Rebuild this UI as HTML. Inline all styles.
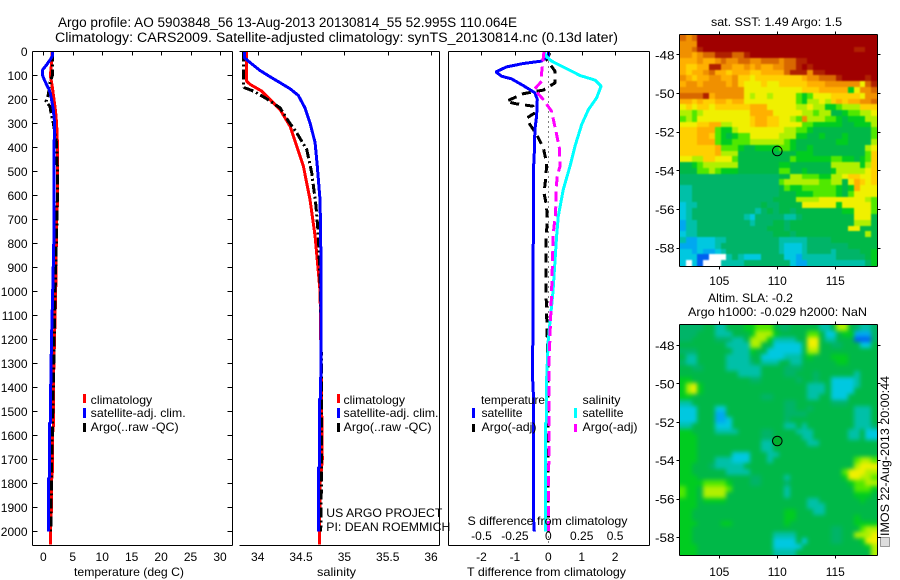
<!DOCTYPE html>
<html>
<head>
<meta charset="utf-8">
<title>Argo profile</title>
<style>
html,body{margin:0;padding:0;background:#fff}
svg{display:block}
text{font-family:"Liberation Sans",sans-serif;font-size:12px;fill:#000}
</style>
</head>
<body>
<svg id="chart" width="900" height="580" viewBox="0 0 900 580" xmlns="http://www.w3.org/2000/svg">
<defs>
<filter id="blur-sst" x="-5%" y="-5%" width="110%" height="110%" color-interpolation-filters="sRGB"><feGaussianBlur stdDeviation="0.9"/></filter>
<filter id="blur-sla" x="-5%" y="-5%" width="110%" height="110%" color-interpolation-filters="sRGB"><feGaussianBlur stdDeviation="2.2"/></filter>
<clipPath id="clip-sst"><rect x="680" y="35" width="197" height="231"/></clipPath>
<clipPath id="clip-sla"><rect x="680" y="325" width="197" height="230"/></clipPath>
</defs>
<text x="58" y="27" textLength="459" lengthAdjust="spacingAndGlyphs" style="font-size:13.5px">Argo profile: AO 5903848_56 13-Aug-2013 20130814_55 52.995S 110.064E</text>
<text x="55" y="42" textLength="563" lengthAdjust="spacingAndGlyphs" style="font-size:13.5px">Climatology: CARS2009. Satellite-adjusted climatology: synTS_20130814.nc (0.13d later)</text>
<g id="maps"></g>
<g id="panels"></g>

<text x="74" y="576" textLength="110" lengthAdjust="spacingAndGlyphs">temperature (deg C)</text>
<text x="317" y="576" textLength="39" lengthAdjust="spacingAndGlyphs">salinity</text>
<text x="467" y="576" textLength="159" lengthAdjust="spacingAndGlyphs">T difference from climatology</text>
<text x="467.5" y="525" textLength="160" lengthAdjust="spacingAndGlyphs">S difference from climatology</text>

<g>
<rect x="83" y="394" width="3" height="9" fill="#f00"/>
<text x="90.7" y="404" textLength="61.5" lengthAdjust="spacingAndGlyphs">climatology</text>
<rect x="83" y="408" width="3" height="10" fill="#00f"/>
<text x="90.7" y="417" textLength="95" lengthAdjust="spacingAndGlyphs">satellite-adj. clim.</text>
<rect x="83" y="423" width="3" height="9" fill="#000"/>
<text x="90.7" y="431" textLength="88" lengthAdjust="spacingAndGlyphs">Argo(..raw -QC)</text>
</g>
<g>
<rect x="337" y="394" width="3" height="9" fill="#f00"/>
<text x="343.5" y="404" textLength="61.5" lengthAdjust="spacingAndGlyphs">climatology</text>
<rect x="337" y="408" width="3" height="10" fill="#00f"/>
<text x="343.5" y="417" textLength="95" lengthAdjust="spacingAndGlyphs">satellite-adj. clim.</text>
<rect x="337" y="423" width="3" height="9" fill="#000"/>
<text x="343.5" y="431" textLength="88" lengthAdjust="spacingAndGlyphs">Argo(..raw -QC)</text>
</g>
<g>
<text x="481" y="404" textLength="64" lengthAdjust="spacingAndGlyphs">temperature</text>
<rect x="472" y="408" width="3" height="10" fill="#00f"/>
<text x="481.5" y="417" textLength="41" lengthAdjust="spacingAndGlyphs">satellite</text>
<rect x="472" y="424" width="3" height="8" fill="#000"/>
<text x="481.5" y="431" textLength="55" lengthAdjust="spacingAndGlyphs">Argo(-adj)</text>
<text x="582.5" y="404" textLength="38" lengthAdjust="spacingAndGlyphs">salinity</text>
<rect x="574" y="408" width="3" height="10" fill="#0ff"/>
<text x="582.5" y="417" textLength="41" lengthAdjust="spacingAndGlyphs">satellite</text>
<rect x="574" y="424" width="3" height="8" fill="#f0f"/>
<text x="582.5" y="431" textLength="55" lengthAdjust="spacingAndGlyphs">Argo(-adj)</text>
</g>

<text x="326.3" y="517" textLength="116" lengthAdjust="spacingAndGlyphs">US ARGO PROJECT</text>
<text x="326.3" y="531" textLength="124" lengthAdjust="spacingAndGlyphs">PI: DEAN ROEMMICH</text>

<text x="711" y="26" textLength="131" lengthAdjust="spacingAndGlyphs">sat. SST: 1.49 Argo: 1.5</text>
<text x="708" y="302" textLength="85" lengthAdjust="spacingAndGlyphs">Altim. SLA: -0.2</text>
<text x="688" y="316" textLength="179" lengthAdjust="spacingAndGlyphs">Argo h1000: -0.029 h2000: NaN</text>

<g>
<rect x="880.5" y="537.5" width="9" height="9" fill="#ddd" stroke="#444" stroke-width="1" stroke-dasharray="1 1" shape-rendering="crispEdges"/>
</g>
<text transform="translate(889,536) rotate(-90)" textLength="160" lengthAdjust="spacingAndGlyphs">IMOS 22-Aug-2013 20:00:44</text>
</svg>
<script>
// ---- tick labels ----
var depthTicks = [0,100,200,300,400,500,600,700,800,900,1000,1100,1200,1300,1400,1500,1600,1700,1800,1900,2000];
var tempTicks = [0,5,10,15,20,25,30];
var salTicks = [34,34.5,35,35.5,36];
var salTickLabels = ['34','34.5','35','35.5','36'];
var tDiffTicks = [-2,-1,0,1,2];
var sDiffTicks = [-0.5,-0.25,0,0.25,0.5];
var sDiffLabels = ['-0.5','-0.25','0','0.25','0.5'];
var latTicks = [-48,-50,-52,-54,-56,-58];
var lonTicks = [105,110,115];

// ---- temperature panel ----
var tempClimDepth = [0,60,100,150,200,250,300,400,620,700,1000,1200,1400,1550,1600,1750,1800,1920,1980,2054];
var tempClim = [1.53,1.35,1.2,1.55,1.81,2.09,2.26,2.43,2.43,2.26,2.1,1.9,1.7,1.75,1.55,1.55,1.35,1.35,1.2,1.2];
var tempArgoDepth = [0,100,130,180,208,229,270,298,382,479,618,757,1000,1400,1700,2000];
var tempArgo = [1.53,1.53,1.13,0.85,0.45,1.13,1.41,1.7,2.26,2.38,2.38,2.26,2.0,1.7,1.45,1.25];
var tempSatDepth = [0,20,35,55,76,97,118,139,160,180,201,243,285,500,758,1000,1200,1400,1545,1550,1775,1780,2000];
var tempSat = [1.53,1.53,1.13,0.57,-0.11,-0.17,0.17,0.57,1.02,1.24,1.41,1.7,1.87,1.85,1.81,1.6,1.4,1.25,1.25,1.02,1.02,0.9,0.9];

// ---- salinity panel ----
var salClimDepth = [0,124,137,165,207,242,311,394,478,617,769,1000,1400,1700,1800,2054];
var salClim = [33.873,33.873,33.912,34.046,34.162,34.258,34.373,34.45,34.527,34.604,34.662,34.72,34.735,34.745,34.72,34.712];
var salArgoDepth = [0,130,150,165,193,235,290,339,408,505,644,769,1000,1400,1800,2000];
var salArgo = [33.835,33.835,33.842,33.95,34.085,34.258,34.354,34.45,34.565,34.623,34.673,34.7,34.725,34.738,34.735,34.727];
var salSatDepth = [0,26,40,79,105,130,155,183,235,297,380,478,617,769,1000,1445,1450,1730,1735,2000];
var salSat = [33.846,33.846,33.892,34.027,34.142,34.258,34.373,34.469,34.546,34.604,34.662,34.688,34.719,34.727,34.73,34.727,34.712,34.712,34.7,34.7];

// ---- difference panel ----
var diffTSatDepth = [0,19,40,50,64,85,103,114,142,172,200,269,325,422,506,769,1360,1450,1950,2000];
var diffTSat = [0,0,-0.2,-0.75,-1.25,-1.57,-1.4,-1.1,-0.75,-0.4,-0.33,-0.35,-0.4,-0.42,-0.45,-0.45,-0.47,-0.44,-0.44,-0.42];
var diffTArgoDepth = [6,33,82,131,161,176,207,217,228,256,276,304,346,401,464,519,589,644,714,769,1000,1300,2000];
var diffTArgo = [0.05,-0.05,0.2,0.2,-0.15,-0.75,-1.25,-1.0,-0.45,-0.4,-0.63,-0.55,-0.35,-0.15,-0.05,-0.07,-0.13,-0.05,-0.03,-0.07,-0.07,-0.01,0];
var diffSSatDepth = [0,19,40,75,100,119,144,193,242,304,394,478,575,686,769,1000,1200,1367,1546,1550,2000];
var diffSSat = [-0.03,-0.0175,0.025,0.15,0.2375,0.35,0.395,0.3625,0.3,0.25,0.2,0.1625,0.1125,0.075,0.0625,0.035,0,-0.0125,-0.015,-0.0225,-0.0225];
var diffSArgoDepth = [0,89,124,158,200,249,346,401,478,519,575,631,686,756,1000,1300,2000];
var diffSArgo = [-0.0325,-0.05,-0.05,-0.105,-0.0375,0.025,0.0625,0.0825,0.0875,0.0675,0.0575,0.0575,0.0525,0.0375,0.025,0.005,0.0025];
var zeroLine = [0,0];
var zeroLineDepth = [0,2054];

// ---- map grids: each character is one cell level, '.' = no data ----
var mapLevels = 'abcdefghijklmnop';
var mapColors = ['#0060f0','#00a8f0','#00c8e0','#00c0a8','#00b468','#00b848','#00cc20','#50e800','#b0f000','#f0f000','#ffd000','#ffb000','#f09000','#d86800','#b02000','#a00000'];
var sstRows = [
'nmnppppppppppppppppppppppppppppppp',
'mmmppppppppppppppppppppppppppppppp',
'mmnoppppppppppppppppppppppppppoopp',
'mmlmnnooonnopppppppppppppppppppppp',
'lllmllmnmmnnmmnnnmnnoopppppppppppp',
'lkklloommllmlmllmmnnopoppppppppppp',
'lkllmnllklllkkllllnooomoopppppppppp',
'mlkllmmllmkkjkkkkkkkklmmnnnoppppop',
'lmmlmmmmlmkjjjkjjkkkkklllmmmmmmjno',
'mmmmmmmmmmmjjjjjjjjjjkkklllllgjmmn',
'nnnnolmmmmmjijjijjjjhghjjjkkkkkjmm',
'llklkkllklljjjjjjjjjhgiijiklkllmmn',
'jkjkkjkkkkkkllljjjjjiijiigghiiikkk',
'iihijjjjjjjjlllljjjjjiihiiffghhiij',
'hihjjjjjjjjjkllkkjjihmiiihhgfgggii',
'jjjkklliijjjkllkkjjjjhhgggggffgggi',
'kkklllhggijjjjjjjjiihhgffffffffffh',
'kkkllkhgfghhjjjjjiiiggffgfffgffffh',
'kkklllhgghhhiiiiiihgfffffffggffffi',
'kkkkkklhhhgffgggghhgffgfffffffffij',
'kkkkkkliiiffffffffffgggfffffffffhk',
'jjiikkjjjhfffffffffhgggggghhggfghk',
'ffghiiiiiifffffffggfffffffiiiiigik',
'fffhhihgggfffffffhhffgffffgiiiiijk',
'eeeeeeeeeeeeeeeeeffiihhhggiijkkjjk',
'eeeeeeeeeeeeeeeeehiiiiiihhiifjlkjk',
'ddeeeeeeeeeeeeeeefhgghhhhhhgfgljjj',
'ddeeeeeeeeeeeeeeefffggghhhhgfhjjjj',
'ddeeeeeeeeeeeeeeffffiiiijjjjjjjjih',
'cddeeeeeeeeeeefeeffffjjjjjjgjjjjjh',
'cdeeeeeeeeeeedefeffeffffffffggjjjh',
'cdeeeeeeeeedceeeeeddefffffffffjjjf',
'bddeeeeeeeeedeeeffefffffffffffiiif',
'bddeeeeeeeeeeeefffeffffffffffjjfff',
'cddeeeeeeeeeeeeefffeffffffffffffif',
'dbbcccddeeeeeeeeedddddeeeeffffffff',
'bbbcccdeeeeeeeeeedcccdeeeeeeefffff',
'ccbcbbcdeeeeeeeeedcccdeeeedeeeeffg',
'cccaa...dedccceeeeccbddddddeeeeefg',
'c.ca...ddddeeeeeeeecbbddddddddddeg'
];
var slaRows = [
'eeeeffddfffgghhhfeefffffddfiifedde',
'eeefffdddfffgiiigfffffhhfccfggbbbe',
'eeffffeeeddfiiigddddffjjfddfffaaae',
'ffffffffddddiiffcccccfjjffeefffccf',
'eeeffffffdddgffccccccfiiffffffffff',
'fddfffffddddffccccdddfgfffgggfffff',
'eddfffffddddefdddffddffffffggfffff',
'ffeeffffddddddffffeeefffffffffffff',
'ffffffffffddddffffeefffeffffffdfff',
'ggffffffffffeeffffffeffeffccccdfff',
'gijgffffffffffffffffffdddfccccdfff',
'gijgffffffffffffffffffdddfccccffff',
'ggffffffffffffeeffffffddffcccfffff',
'ddffffffffffffffffeeffffffeeefffff',
'cccfffccffffffffffeeffefffffffdddf',
'cccfffbbffffffffffeeeeffffffffdddf',
'cccfffbbcfffffffffefffffffffffdddf',
'ddffffcccfffffffffddfdffffffffddde',
'ggffffddddffffeeffffdddffffffddfcc',
'gggfffffffffffeefffffddffffffddfcc',
'gggfffffffffffddffffffddffffffffff',
'gggfffffffffffddffffffffffffffffff',
'gggffffffcccfffddfffffffffffffffff',
'gggfffdddcccfffdffffffffffffffhiih',
'ggfffedddddfffffffffffffffffffijjj',
'ggffffffddddffffffffffffffffhjjjii',
'gggfffffffffeeffffdfffffffffgjjiih',
'gggghhhhgfffeeffffeffffffffffghhii',
'hggfiiiihfffffffffdfffffffffffhhhg',
'hggfiiiiffffffffffdfffffffffffgggf',
'gggfggggffffffffffffffddfffffffgff',
'gggfffffffffffffffffffdddfffffffff',
'ggffffffffffffffffggfffddfffffffff',
'ggffffffffffffffffggffffffffffgfff',
'gggffffggfffffffffgfffffffffffgggg',
'ggffffffffffffffffffffffffeefffhii',
'ggffffffffffffffddddffffffeeffiiij',
'ggffffffffffffffccccfcffffeefffgjj',
'gggfffffffffffffcccccfffffffffffgi',
'gggfffffffffffffddddfffffffffffffi'
];

var svgNS = 'http://www.w3.org/2000/svg';
var panelsG = document.getElementById('panels');
var mapsG = document.getElementById('maps');

function mk(tag, parent) {
  var e = document.createElementNS(svgNS, tag);
  parent.appendChild(e);
  return e;
}

// ---- axis functions ----
var depthTop = 51.5, depthPx = 0.24;
function yDepth(d) { return depthTop + d * depthPx; }
function xTemp(t) { return 43.3 + t * 5.89; }
function xSal(s) { return 257.7 + (s - 34) * 86.67; }
function xDT(t) { return 548.3 + t * 33.4; }
function xDS(s) { return 548.3 + s * 133.6; }

function seg(parent, x1, y1, x2, y2) {
  var l = mk('line', parent);
  l.setAttribute('x1', x1);
  l.setAttribute('y1', y1);
  l.setAttribute('x2', x2);
  l.setAttribute('y2', y2);
  l.setAttribute('stroke', '#000');
  l.setAttribute('stroke-width', '1');
  l.setAttribute('shape-rendering', 'crispEdges');
  
  
}

function label(parent, x, y, str, anchor) {
  var t = mk('text', parent);
  t.setAttribute('x', x);
  t.setAttribute('y', y);
  t.setAttribute('text-anchor', anchor);
  t.textContent = str;
  
  
  return t;
}

function series(parent, xs, ds, xf, color, width, dash) {
  var p = mk('polyline', parent);
  var pts = [];
  for (var i = 0; i < xs.length; i++) {
    pts.push(xf(xs[i]).toFixed(1) + ',' + yDepth(ds[i]).toFixed(1));
  }
  p.setAttribute('points', pts.join(' '));
  p.setAttribute('fill', 'none');
  p.setAttribute('stroke', color);
  p.setAttribute('stroke-width', width);
  p.setAttribute('stroke-linejoin', 'bevel');
  p.setAttribute('shape-rendering', 'crispEdges');
  if (dash) p.setAttribute('stroke-dasharray', dash);
  
  
}

// ---- profile panels: curves ----
var c1 = mk('g', panelsG);


series(c1, tempClim, tempClimDepth, xTemp, '#f00', 3);
series(c1, tempArgo, tempArgoDepth, xTemp, '#000', 3, '10 3 2 3');
series(c1, tempSat, tempSatDepth, xTemp, '#00f', 3);

var c2 = mk('g', panelsG);


series(c2, salClim, salClimDepth, xSal, '#f00', 3);
series(c2, salArgo, salArgoDepth, xSal, '#000', 3, '10 3 2 3');
series(c2, salSat, salSatDepth, xSal, '#00f', 3);

var c3 = mk('g', panelsG);


series(c3, zeroLine, zeroLineDepth, xDT, '#000', 1, '1 4');
series(c3, diffTArgo, diffTArgoDepth, xDT, '#000', 3, '9 6');
series(c3, diffTSat, diffTSatDepth, xDT, '#00f', 3);
series(c3, diffSSat, diffSSatDepth, xDS, '#0ff', 3);
series(c3, diffSArgo, diffSArgoDepth, xDS, '#f0f', 3, '10 5');

// ---- profile panels: frames, ticks, labels ----
var a1 = mk('g', panelsG);


seg(a1, 32.5, 51.5, 232.5, 51.5);
seg(a1, 32.5, 545.5, 232.5, 545.5);
seg(a1, 32.5, 51.5, 32.5, 545.5);
seg(a1, 232.5, 51.5, 232.5, 545.5);
depthTicks.forEach(function (d) {
  var y = Math.round(yDepth(d) - 0.5) + 0.5;
  seg(a1, 32.5, y, 37.5, y);
  seg(a1, 227.5, y, 232.5, y);
  label(a1, 27.5, yDepth(d) + 4.5, String(d), 'end');
});
tempTicks.forEach(function (t) {
  var x = Math.round(xTemp(t)) + 0.5;
  seg(a1, x, 51.5, x, 55.5);
  label(a1, xTemp(t), 561, String(t), 'middle');
});

var a2 = mk('g', panelsG);


seg(a2, 239.5, 51.5, 439.5, 51.5);
seg(a2, 239.5, 545.5, 439.5, 545.5);
seg(a2, 439.5, 51.5, 439.5, 545.5);
salTicks.forEach(function (s, i) {
  var x = Math.round(xSal(s)) + 0.5;
  seg(a2, x, 51.5, x, 55.5);
  label(a2, xSal(s), 561, salTickLabels[i], 'middle');
});

var a3 = mk('g', panelsG);


seg(a3, 448.5, 51.5, 649.5, 51.5);
seg(a3, 448.5, 545.5, 649.5, 545.5);
seg(a3, 448.5, 51.5, 448.5, 545.5);
seg(a3, 649.5, 51.5, 649.5, 545.5);
tDiffTicks.forEach(function (t) {
  var x = Math.round(xDT(t)) + 0.5;
  seg(a3, x, 51.5, x, 55.5);
  label(a3, xDT(t), 561, String(t), 'middle');
});
sDiffTicks.forEach(function (s, i) {
  label(a3, xDS(s), 540, sDiffLabels[i], 'middle');
});

// ---- maps ----
function drawMap(rows, box, withFill, gName, clipId, filterId) {
  var g = mk('g', mapsG);
  
  
  var clipG = mk('g', g);
  clipG.setAttribute('clip-path', 'url(#' + clipId + ')');
  
  
  var cellsG = mk('g', clipG);
  cellsG.setAttribute('filter', 'url(#' + filterId + ')');
  
  
  var nR = rows.length;
  var nC = 34;
  // cells just outside the frame repeat the edge values so smoothing stays opaque at the border
  for (var r = -3; r < nR + 3; r++) {
    var row = rows[Math.max(0, Math.min(nR - 1, r))];
    for (var c = -3; c < nC + 3; c++) {
      var ch = row.charAt(Math.max(0, Math.min(row.length - 1, Math.min(nC - 1, c))));
      var lvl = mapLevels.indexOf(ch);
      if (lvl < 0) continue;
      var x0 = Math.round(box.left + c * (box.right - box.left) / nC);
      var x1 = Math.round(box.left + (c + 1) * (box.right - box.left) / nC);
      var y0 = Math.round(box.top + r * (box.bottom - box.top) / nR);
      var y1 = Math.round(box.top + (r + 1) * (box.bottom - box.top) / nR);
      var cell = mk('rect', cellsG);
      cell.setAttribute('x', x0);
      cell.setAttribute('y', y0);
      cell.setAttribute('width', x1 - x0);
      cell.setAttribute('height', y1 - y0);
      cell.setAttribute('fill', mapColors[lvl]);
      cell.setAttribute('shape-rendering', 'crispEdges');
      
      
    }
  }
  var L = box.left - 0.5, R = box.right + 0.5, T = box.top - 0.5, B = box.bottom + 0.5;
  seg(g, L, T, R, T);
  seg(g, L, B, R, B);
  seg(g, L, T, L, B);
  seg(g, R, T, R, B);
  function xLon(v) { return box.x110 + (v - 110) * 11.6; }
  function yLat(v) { return box.y48 + (-48 - v) * box.pxDeg; }
  latTicks.forEach(function (v) {
    var y = Math.round(yLat(v)) + 0.5;
    seg(g, L - 3, y, L, y);
    seg(g, R, y, R + 3, y);
    var lab = label(g, 655, yLat(v) + 5, String(v), 'start');
    lab.setAttribute('textLength', '19.5');
    lab.setAttribute('lengthAdjust', 'spacingAndGlyphs');
  });
  lonTicks.forEach(function (v) {
    var x = Math.round(xLon(v)) + 0.5;
    seg(g, x, T - 3, x, T);
    seg(g, x, B, x, B + 3);
    label(g, xLon(v), box.labelY, String(v), 'middle');
  });
  var mark = mk('circle', g);
  mark.setAttribute('cx', xLon(110));
  mark.setAttribute('cy', yLat(-53));
  mark.setAttribute('r', 4.8);
  mark.setAttribute('fill', withFill ? '#00b030' : 'none');
  mark.setAttribute('stroke', '#000');
  mark.setAttribute('stroke-width', '1');
  
  
}
drawMap(sstRows, {left:680, right:877, top:35, bottom:266, x110:777.3, y48:54.3, pxDeg:19.33, labelY:285}, false, 'sst-map', 'clip-sst', 'blur-sst');
drawMap(slaRows, {left:680, right:877, top:325, bottom:555, x110:777.3, y48:345, pxDeg:19.2, labelY:576}, true, 'sla-map', 'clip-sla', 'blur-sla');
</script>
</body>
</html>
